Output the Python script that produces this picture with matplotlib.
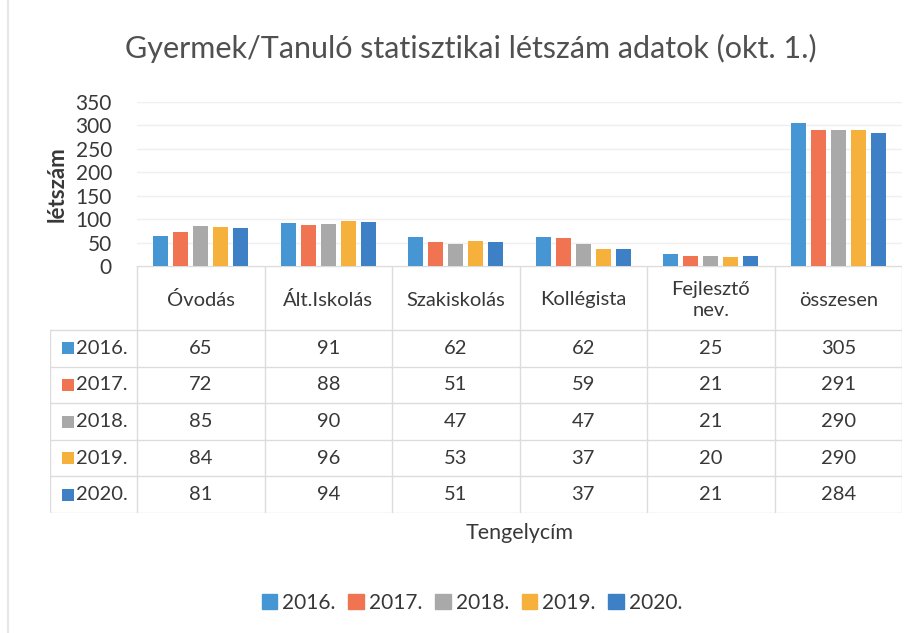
import matplotlib
matplotlib.use("Agg")
import matplotlib.pyplot as plt
from matplotlib.patches import Patch, Rectangle
import numpy as np

plt.rcParams['font.family'] = ['Lato', 'DejaVu Sans']

categories = ["Óvodás", "Ált.Iskolás", "Szakiskolás", "Kollégista", "Fejlesztő\nnev.", "összesen"]
years = ["2016.", "2017.", "2018.", "2019.", "2020."]
v2016 = [65, 91, 62, 62, 25, 305]
v2017 = [72, 88, 51, 59, 21, 291]
v2018 = [85, 90, 47, 47, 21, 290]
v2019 = [84, 96, 53, 37, 20, 290]
v2020 = [81, 94, 51, 37, 21, 284]
series = [v2016, v2017, v2018, v2019, v2020]
colors = ["#4596d3", "#f07352", "#a9a9a9", "#f6b13d", "#3d80c6"]
yticks = [0, 50, 100, 150, 200, 250, 300, 350]

W, H = 919, 633
fig = plt.figure(figsize=(W / 100, H / 100), dpi=100)
fig.patch.set_facecolor("white")
TXT = "#383838"

# plot area in pixels
L, R, T, B = 137, 902, 102, 266
ax = fig.add_axes([L / W, 1 - B / H, (R - L) / W, (B - T) / H])
ax.set_xlim(-0.5, 5.5)
ax.set_ylim(0, 350)
ax.set_yticks(yticks)
ax.set_yticklabels([str(t) for t in yticks], fontsize=15, color=TXT)
ax.tick_params(axis="y", length=0, pad=18)
ax.set_xticks([])
for s in ax.spines.values():
    s.set_visible(False)
ax.grid(axis="y", color="#efefef", lw=1)
ax.set_axisbelow(True)

x = np.arange(len(categories))
step, bw = 0.157, 0.12
for i, (vals, c) in enumerate(zip(series, colors)):
    ax.bar(x + (i - 2) * step, vals, width=bw, color=c, zorder=3)

ax.set_ylabel("létszám", fontsize=16, fontweight="bold", color=TXT, labelpad=6)

# data table
TL, TB = 50, 513
tx = fig.add_axes([TL / W, 1 - TB / H, (R - TL) / W, (TB - B) / H])
unit = (R - L) / 6.0
xmin = -0.5 - (L - TL) / unit
tx.set_xlim(xmin, 5.5)
tx.set_ylim(TB - B, 0)
tx.axis("off")
hdr = 64
rh = (TB - B - hdr) / 5.0
lc = "#dcdcdc"
for k in range(7):
    tx.plot([-0.5 + k, -0.5 + k], [0, TB - B], color=lc, lw=1)
tx.plot([xmin, xmin], [hdr, TB - B], color=lc, lw=1)
tx.plot([-0.5, 5.5], [0, 0], color=lc, lw=1)
for r in range(6):
    tx.plot([xmin, 5.5], [hdr + r * rh, hdr + r * rh], color=lc, lw=1)

for j, cat in enumerate(categories):
    tx.text(j, hdr / 2 + 2, cat, ha="center", va="center", fontsize=14.5, color=TXT,
            linespacing=1.3)
sq = 12 / unit
for i, (yr, vals, c) in enumerate(zip(years, series, colors)):
    yc = hdr + (i + 0.5) * rh
    tx.add_patch(Rectangle((xmin + 12 / unit, yc - 6), sq, 12, color=c, lw=0))
    tx.text(xmin + 26 / unit, yc, yr, ha="left", va="center", fontsize=14.5, color=TXT)
    for j, v in enumerate(vals):
        tx.text(j, yc, str(v), ha="center", va="center", fontsize=14.5, color=TXT)

fig.text((L + R) / 2 / W, 1 - 533 / H, "Tengelycím", ha="center", va="center",
         fontsize=15.5, color=TXT)
fig.text(471 / W, 1 - 48 / H, "Gyermek/Tanuló statisztikai létszám adatok (okt. 1.)",
         ha="center", va="center", fontsize=22, color="#505050")

handles = [Patch(color=c, label=y) for c, y in zip(colors, years)]
leg = fig.legend(handles=handles, loc="center", bbox_to_anchor=(472 / W, 1 - 603 / H),
                 ncol=5, frameon=False, fontsize=15, handlelength=0.75, handleheight=0.75,
                 columnspacing=0.6, handletextpad=0.25, labelcolor=TXT)

fig.add_artist(plt.Line2D([8 / W, 8 / W], [0, 1], color="#e6e6e6", lw=1.5))

fig.savefig("out.png", dpi=100, facecolor="white")
